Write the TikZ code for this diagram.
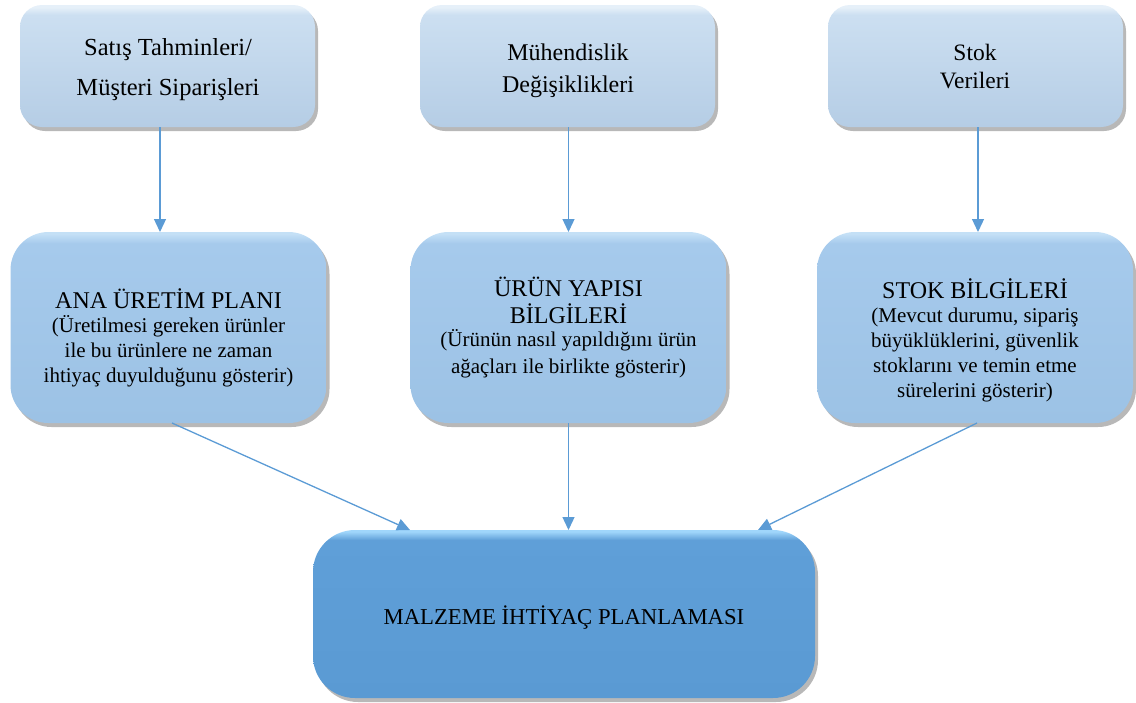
\documentclass[tikz,border=0pt]{standalone}
\usepackage{fontspec}
\setmainfont{Liberation Serif}
\usetikzlibrary{shadows,arrows.meta}
\definecolor{arrowc}{HTML}{5B9BD5}
\definecolor{topD}{HTML}{B5CDE5}
\definecolor{topL}{HTML}{CCDFF1}
\definecolor{topE}{HTML}{E6F0F9}
\definecolor{midD}{HTML}{9CC2E5}
\definecolor{midL}{HTML}{A6CAEC}
\definecolor{midE}{HTML}{C4E0F6}
\definecolor{botD}{HTML}{5A9AD3}
\definecolor{botL}{HTML}{5F9FD8}
\definecolor{botE}{HTML}{A0D6FB}
\pgfdeclareverticalshading{shTop}{100bp}{color(0bp)=(topD); color(25bp)=(topD); color(71bp)=(topL); color(74bp)=(topE); color(100bp)=(topE)}
\pgfdeclareverticalshading{shMid}{100bp}{color(0bp)=(midD); color(25bp)=(midD); color(72bp)=(midL); color(74.5bp)=(midE); color(100bp)=(midE)}
\pgfdeclareverticalshading{shBot}{100bp}{color(0bp)=(botD); color(25bp)=(botD); color(72bp)=(botL); color(74.5bp)=(botE); color(100bp)=(botE)}
\tikzset{
  boxbase/.style={inner sep=0pt, outer sep=0pt, draw=none,
    drop shadow={shadow xshift=3pt, shadow yshift=-4pt, fill=black, opacity=0.28}},
  topbox/.style={boxbase, shading=shTop, rounded corners=22pt, minimum width=295pt, minimum height=122pt},
  midbox/.style={boxbase, shading=shMid, rounded corners=38pt, minimum width=316pt, minimum height=191pt},
  botbox/.style={boxbase, shading=shBot, rounded corners=42pt, minimum width=502pt, minimum height=168pt},
  txt/.style={inner sep=0pt, align=center, text=black},
  arr/.style={draw=arrowc, line width=1.3pt, -{Triangle[width=12pt,length=13pt]}}
}
\begin{document}
\begin{tikzpicture}[x=1pt,y=-1pt]
\useasboundingbox (0,0) rectangle (1136,702);
% top row
\node[topbox] (s1) at (167.5,66) {};
\node[topbox] (s2) at (567.5,66) {};
\node[topbox] (s3) at (975.5,66) {};
% middle row
\node[midbox] (m1) at (168.5,327.5) {};
\node[midbox] (m2) at (568.5,327.5) {};
\node[midbox] (m3) at (975,327.5) {};
% bottom
\node[botbox] (b) at (564,614) {};
% texts (base anchor = baseline of last line)
\node[txt, anchor=base, font=\fontsize{24.5}{40}\selectfont] (s1t) at (168,95) {Satış Tahminleri/\\Müşteri Siparişleri};
\node[txt, anchor=base, font=\fontsize{24}{32}\selectfont] (s2t) at (568,92) {Mühendislik\\Değişiklikleri};
\node[txt, anchor=base, font=\fontsize{23.5}{28}\selectfont] (s3t) at (975,88) {Stok\\Verileri};
\node[txt, anchor=base, font=\fontsize{24}{25}\selectfont] (m1t) at (168.5,382) {ANA ÜRETİM PLANI\\[-1pt]\fontsize{21}{25}\selectfont (Üretilmesi gereken ürünler\\\fontsize{21}{25}\selectfont ile bu ürünlere ne zaman\\\fontsize{21}{25}\selectfont ihtiyaç duyulduğunu gösterir)};
\node[txt, anchor=base, font=\fontsize{24}{27}\selectfont] (m2t) at (568.5,373) {ÜRÜN YAPISI\\BİLGİLERİ\\[-4pt]\fontsize{21}{25}\selectfont (Ürünün nasıl yapıldığını ürün\\\fontsize{21}{25}\selectfont ağaçları ile birlikte gösterir)};
\node[txt, anchor=base, font=\fontsize{24}{25}\selectfont] (m3t) at (975,397) {STOK BİLGİLERİ\\[-1pt]\fontsize{21}{24}\selectfont (Mevcut durumu, sipariş\\\fontsize{21}{24}\selectfont büyüklüklerini, güvenlik\\\fontsize{21}{24}\selectfont stoklarını ve temin etme\\\fontsize{21}{24}\selectfont sürelerini gösterir)};
\node[txt, anchor=base, font=\fontsize{22.7}{27}\selectfont] (bt) at (564,624) {MALZEME İHTİYAÇ PLANLAMASI};
% connectors
\coordinate (c1) at (160,0);
\coordinate (c2) at (568.5,0);
\coordinate (c3) at (978,0);
\draw[arr] (s1.south -| c1) -- (m1.north -| c1);
\draw[arr] (s2.south -| c2) -- (m2.north -| c2);
\draw[arr] (s3.south -| c3) -- (m3.north -| c3);
\coordinate (e1) at (172,0);
\coordinate (f1) at (410,0);
\coordinate (e3) at (977,0);
\coordinate (f3) at (758,0);
\draw[arr] (m1.south -| e1) -- (b.north -| f1);
\draw[arr] (m2.south -| c2) -- (b.north -| c2);
\draw[arr] (m3.south -| e3) -- (b.north -| f3);
\end{tikzpicture}
\end{document}
